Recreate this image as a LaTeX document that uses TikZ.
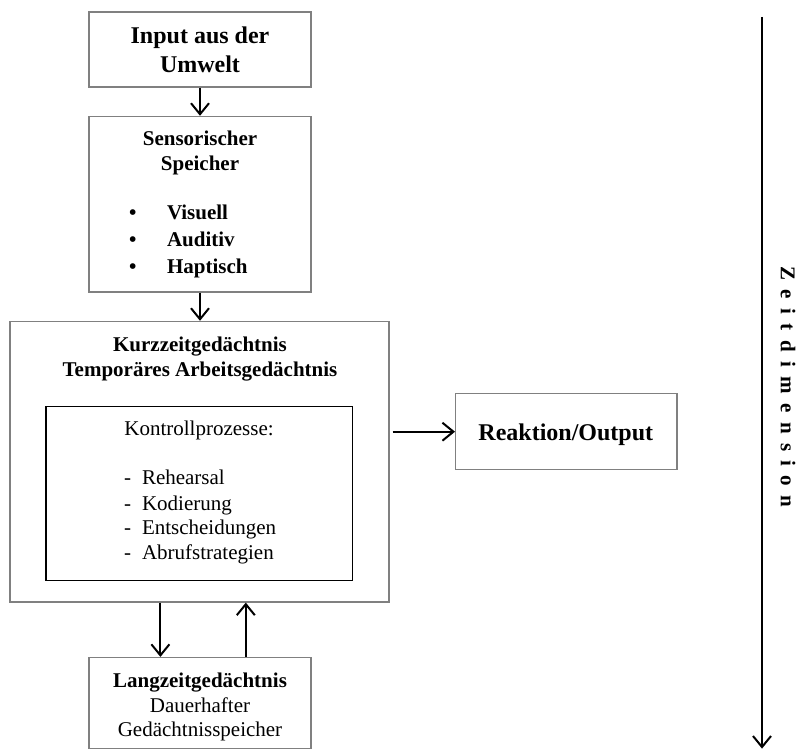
\documentclass[tikz,border=0pt]{standalone}
\usepackage{fontspec}
\setmainfont{Liberation Serif}
\usetikzlibrary{arrows.meta}
\definecolor{framegray}{RGB}{128,128,128}
\newcommand{\gap}{\hspace{9.4pt}}
\tikzset{
  box/.style={draw=framegray, line width=1.2pt, rectangle, inner sep=0pt},
  innerbox/.style={draw=black, line width=1.4pt, rectangle, inner sep=0pt},
  flow/.style={line width=2pt, -{Straight Barb[length=11pt,width=18pt,line width=2pt]}},
  big/.style={font=\fontsize{24}{29}\selectfont\bfseries, anchor=base, inner sep=0pt},
  head/.style={font=\fontsize{21}{25}\selectfont\bfseries, anchor=base, inner sep=0pt},
  plain/.style={font=\fontsize{21}{25}\selectfont, anchor=base, inner sep=0pt},
}
\begin{document}
\begin{tikzpicture}[x=1pt,y=-1pt]
\useasboundingbox (0,0) rectangle (800,751);

% frames
\node[box, minimum width=222pt, minimum height=75pt] (input) at (200,49.5) {};
\node[box, minimum width=222pt, minimum height=175.6pt] (sensor) at (200,204.2) {};
\node[box, minimum width=379pt, minimum height=280.6pt] (stm) at (199.5,461.7) {};
\node[innerbox, minimum width=306.6pt, minimum height=174pt] (ctrl) at (199.3,493.5) {};
\node[box, minimum width=221.4pt, minimum height=76pt] (output) at (566.3,431.7) {};
\node[box, minimum width=222pt, minimum height=91pt] (ltm) at (200,703) {};

% input
\node[big] (in1) at (200,44) {Input aus der};
\node[big] (in2) at (200,72.8) {Umwelt};

% sensory store
\node[head] (se1) at (200,146) {Sensorischer};
\node[head] (se2) at (200,171) {Speicher};
\foreach \y/\t [count=\i] in {220/Visuell, 246.6/Auditiv, 273/Haptisch}{
  \node[head] (bul\i) at (132.7,\y) {\textbullet};
  \node[head, anchor=base west] (sen\i) at (166.8,\y) {\t};
}

% short-term memory
\node[head] (st1) at (200,351) {Kurzzeitgedächtnis};
\node[head] (st2) at (200,376) {Temporäres Arbeitsgedächtnis};
\node[plain] (ct0) at (199,435.8) {Kontrollprozesse:};
\foreach \y/\t [count=\i] in {484.7/Rehearsal, 510/Kodierung, 534/Entscheidungen, 559/Abrufstrategien}{
  \node[plain, anchor=base west] (dash\i) at (124,\y) {-};
  \node[plain, anchor=base west] (ct\i) at (141.8,\y) {\t};
}

% output
\node[big] (out1) at (565.8,440.6) {Reaktion/Output};

% long-term memory
\node[head] (lt1) at (200,687) {Langzeitgedächtnis};
\node[plain] (lt2) at (200,712) {Dauerhafter};
\node[plain] (lt3) at (200,736) {Gedächtnisspeicher};

% connectors
\draw[flow] (input.south) -- (sensor.north);
\draw[flow] (sensor.south) -- (sensor.south |- stm.north);
\draw[flow, shorten <=3pt] (output.west -| stm.east) -- (output.west);
\draw[flow] ([xshift=72pt]ltm.north west |- stm.south) -- ([xshift=72pt]ltm.north west);
\draw[flow] ([xshift=157.4pt]ltm.north west) -- ([xshift=157.4pt]ltm.north west |- stm.south);

% time axis
\coordinate (tstart) at (762,16.8);
\coordinate (tend) at (762,748.6);
\draw[flow] (tstart) -- (tend);
\node[font=\fontsize{21}{25}\selectfont\bfseries, rotate=-90, inner sep=0pt] (tlabel) at (788,387)
  {Z\gap e\gap i\gap t\gap d\gap i\gap m\gap e\gap n\gap s\gap i\gap o\gap n};
\end{tikzpicture}
\end{document}
